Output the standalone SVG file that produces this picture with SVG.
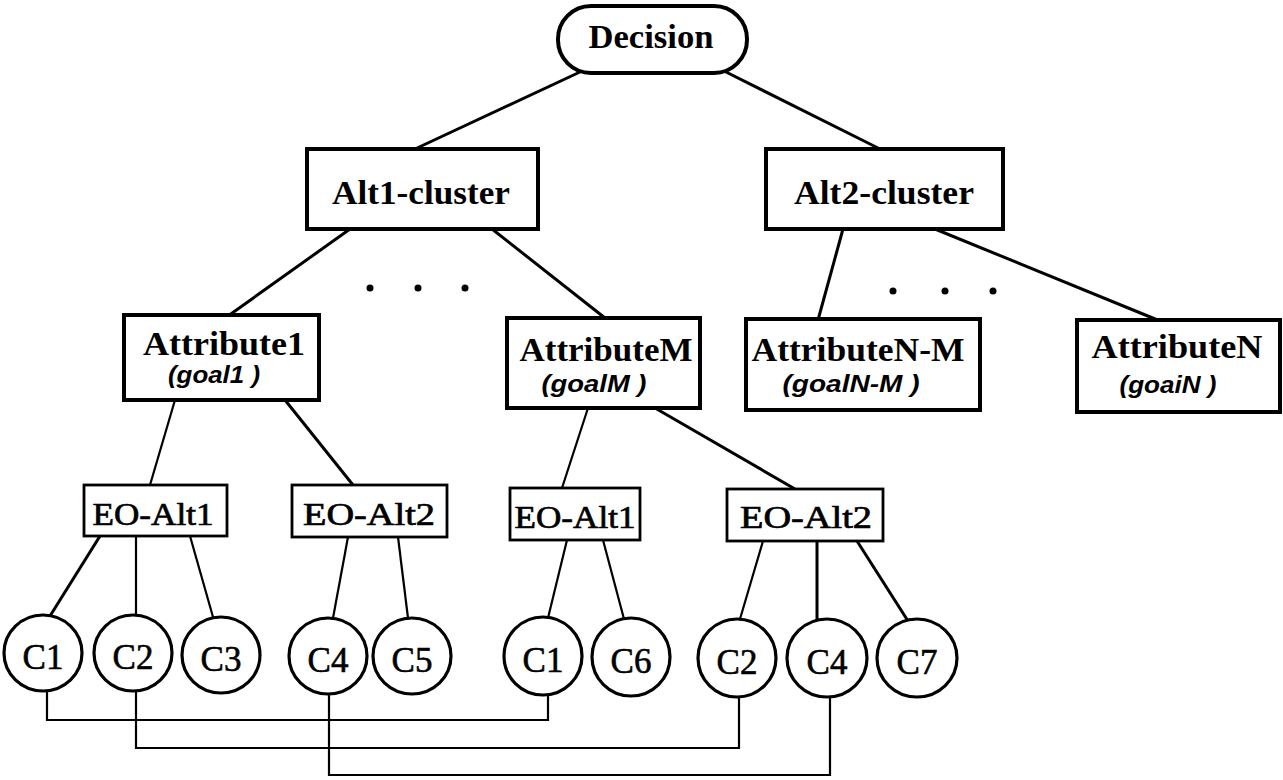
<svg xmlns="http://www.w3.org/2000/svg" width="1283" height="780" viewBox="0 0 1283 780">
<style>
.box{fill:#fff;stroke:#000;stroke-width:4}
.eo{fill:#fff;stroke:#000;stroke-width:2.8}
.c{fill:#fff;stroke:#000;stroke-width:3.2}
.e{stroke:#000;stroke-width:3;fill:none}
.e2{stroke:#000;stroke-width:2.2;fill:none}
.t{font-family:"Liberation Serif",serif;font-weight:bold;font-size:33px;text-anchor:middle}
.g{font-family:"Liberation Sans",sans-serif;font-weight:bold;font-style:italic;font-size:23px;text-anchor:middle}
.r{font-family:"Liberation Serif",serif;font-size:32px;text-anchor:middle;stroke:#000;stroke-width:0.7}
.cl{font-family:"Liberation Serif",serif;font-size:35px;text-anchor:middle;stroke:#000;stroke-width:0.6}
.d{fill:#000}
</style>
<g id="connectors">
<line class="e" x1="580" y1="72" x2="415" y2="149"/>
<line class="e" x1="722" y1="70" x2="880" y2="149"/>
<line class="e" x1="350" y1="229" x2="228" y2="316"/>
<line class="e" x1="492" y1="229" x2="605" y2="318"/>
<line class="e" x1="843" y1="229" x2="818" y2="320"/>
<line class="e" x1="935" y1="229" x2="1160" y2="321"/>
<line class="e2" x1="175" y1="400" x2="150" y2="485"/>
<line class="e" x1="285" y1="400" x2="353" y2="485"/>
<line class="e2" x1="588" y1="408" x2="562" y2="488"/>
<line class="e" x1="655" y1="408" x2="795" y2="489"/>
<line class="e" x1="100" y1="536" x2="50" y2="616"/>
<line class="e2" x1="136" y1="536" x2="136" y2="615"/>
<line class="e2" x1="190" y1="536" x2="213" y2="617"/>
<line class="e2" x1="348" y1="537" x2="333" y2="618"/>
<line class="e2" x1="398" y1="537" x2="408" y2="618"/>
<line class="e2" x1="567" y1="540" x2="548" y2="618"/>
<line class="e2" x1="603" y1="540" x2="624" y2="619"/>
<line class="e2" x1="763" y1="541" x2="740" y2="619"/>
<line class="e" x1="817" y1="541" x2="817" y2="620"/>
<line class="e" x1="857" y1="541" x2="908" y2="621"/>
<polyline class="e2" points="47,692 47,720 548,720 548,695"/>
<polyline class="e2" points="136,692 136,748 739,748 739,697"/>
<polyline class="e2" points="329,695 329,775 830,775 830,697"/>
</g>
<g id="dots1"><circle class="d" cx="370" cy="288" r="3.5"/><circle class="d" cx="418" cy="288" r="3.5"/><circle class="d" cx="465" cy="288" r="3.5"/></g>
<g id="dots2"><circle class="d" cx="893" cy="291" r="3.5"/><circle class="d" cx="945" cy="291" r="3.5"/><circle class="d" cx="993" cy="291" r="3.5"/></g>
<g id="decision"><rect class="box" x="558" y="6" width="189" height="67" rx="33" ry="33"/><text class="t" x="651" y="48" textLength="125" lengthAdjust="spacingAndGlyphs">Decision</text></g>
<g id="alt1-cluster"><rect class="box" x="307" y="149" width="231" height="80"/><text class="t" x="421" y="204" textLength="178" lengthAdjust="spacingAndGlyphs">Alt1-cluster</text></g>
<g id="alt2-cluster"><rect class="box" x="766" y="149" width="237" height="80"/><text class="t" x="884" y="204" textLength="180" lengthAdjust="spacingAndGlyphs">Alt2-cluster</text></g>
<g id="attribute1"><rect class="box" x="124" y="315" width="195" height="85"/><text class="t" x="224" y="355" textLength="162" lengthAdjust="spacingAndGlyphs">Attribute1</text><text class="g" x="214" y="383" textLength="92" lengthAdjust="spacingAndGlyphs">(goal1 )</text></g>
<g id="attributeM"><rect class="box" x="507" y="318" width="193" height="90"/><text class="t" x="606" y="361" textLength="173" lengthAdjust="spacingAndGlyphs">AttributeM</text><text class="g" x="594" y="392" textLength="105" lengthAdjust="spacingAndGlyphs">(goalM )</text></g>
<g id="attributeN-M"><rect class="box" x="746" y="319" width="234" height="91"/><text class="t" x="858" y="361" textLength="213" lengthAdjust="spacingAndGlyphs">AttributeN-M</text><text class="g" x="851" y="392" textLength="137" lengthAdjust="spacingAndGlyphs">(goalN-M )</text></g>
<g id="attributeN"><rect class="box" x="1077" y="320" width="203" height="92"/><text class="t" x="1177" y="358" textLength="171" lengthAdjust="spacingAndGlyphs">AttributeN</text><text class="g" x="1168" y="393" textLength="97" lengthAdjust="spacingAndGlyphs">(goaiN )</text></g>
<g id="eo-alt1-a"><rect class="eo" x="84" y="485" width="143" height="51"/><text class="r" x="153" y="525" textLength="121" lengthAdjust="spacingAndGlyphs">EO-Alt1</text></g>
<g id="eo-alt2-a"><rect class="eo" x="292" y="485" width="155" height="52"/><text class="r" x="369" y="525" textLength="132" lengthAdjust="spacingAndGlyphs">EO-Alt2</text></g>
<g id="eo-alt1-b"><rect class="eo" x="510" y="488" width="130" height="52"/><text class="r" x="575" y="528" textLength="121" lengthAdjust="spacingAndGlyphs">EO-Alt1</text></g>
<g id="eo-alt2-b"><rect class="eo" x="727" y="489" width="156" height="52"/><text class="r" x="806" y="528" textLength="132" lengthAdjust="spacingAndGlyphs">EO-Alt2</text></g>
<g id="c1-a"><ellipse class="c" cx="43" cy="653" rx="39" ry="38"/><text class="cl" x="43" y="669">C1</text></g>
<g id="c2-a"><ellipse class="c" cx="133" cy="653" rx="39" ry="38"/><text class="cl" x="133" y="669">C2</text></g>
<g id="c3"><ellipse class="c" cx="221" cy="655" rx="39" ry="38"/><text class="cl" x="221" y="671">C3</text></g>
<g id="c4-a"><ellipse class="c" cx="328" cy="656" rx="39" ry="38"/><text class="cl" x="328" y="672">C4</text></g>
<g id="c5"><ellipse class="c" cx="412" cy="656" rx="39" ry="38"/><text class="cl" x="412" y="672">C5</text></g>
<g id="c1-b"><ellipse class="c" cx="543" cy="656" rx="39" ry="39"/><text class="cl" x="543" y="672">C1</text></g>
<g id="c6"><ellipse class="c" cx="631" cy="657" rx="39" ry="39"/><text class="cl" x="631" y="673">C6</text></g>
<g id="c2-b"><ellipse class="c" cx="737" cy="658" rx="39" ry="39"/><text class="cl" x="737" y="674">C2</text></g>
<g id="c4-b"><ellipse class="c" cx="827" cy="658" rx="40" ry="39"/><text class="cl" x="827" y="674">C4</text></g>
<g id="c7"><ellipse class="c" cx="917" cy="658" rx="40" ry="39"/><text class="cl" x="917" y="674">C7</text></g>
</svg>
